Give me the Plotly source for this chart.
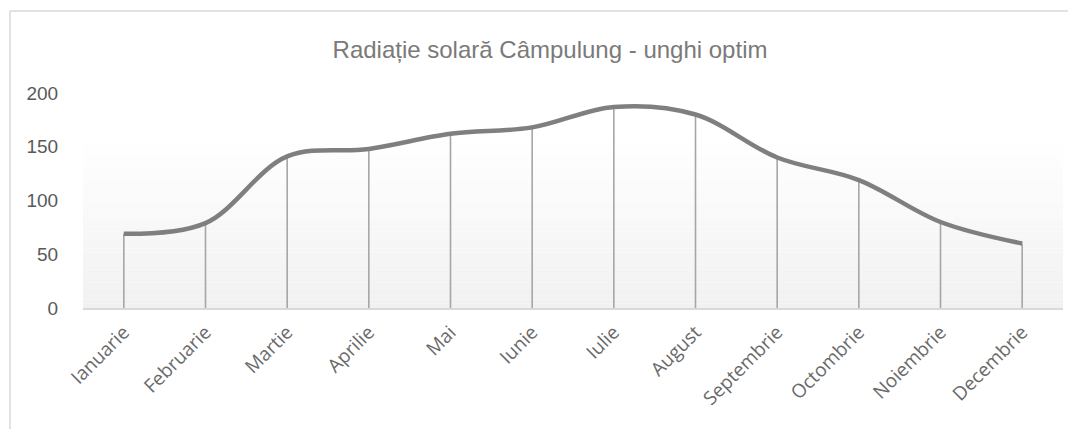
import plotly.graph_objects as go

months = ["Ianuarie", "Februarie", "Martie", "Aprilie", "Mai", "Iunie",
          "Iulie", "August", "Septembrie", "Octombrie", "Noiembrie", "Decembrie"]
radiation = [69, 79, 141, 148, 162, 168, 187, 180, 140, 119, 80, 60]
y_ticks = [0, 50, 100, 150, 200]
title_text = "Radiație solară Câmpulung - unghi optim"

OFF = 8  # page body margin
W, H = 1076 - OFF, 429 - OFF
L, T = 83 - OFF, 93 - OFF
R = W + OFF - 1063
B = H + OFF - 308
pw, ph = W - L - R, H - T - B

fig = go.Figure()

fig.add_trace(go.Scatter(
    x=months, y=radiation, mode="lines",
    line=dict(color="#7f7f7f", width=4.5, shape="spline", smoothing=1),
    error_y=dict(type="data", symmetric=False, array=[0] * len(radiation),
                 arrayminus=radiation, color="#a6a6a6", thickness=1.6, width=0),
    hoverinfo="x+y", showlegend=False,
))

shapes = []
n = 40
top = (308 - 138) / ph
for i in range(n):
    y0 = top * i / n
    y1 = top * (i + 1) / n
    t = 1 - (i + 0.5) / n
    v = int(round(255 - (255 - 241) * t))
    shapes.append(dict(type="rect", xref="paper", yref="paper", x0=0, x1=1,
                       y0=y0, y1=y1, fillcolor=f"rgb({v},{v},{v})",
                       line=dict(width=0), layer="below"))
bx = (10 - 83) / pw
by = (308 - 11) / ph
shapes.append(dict(type="line", xref="paper", yref="paper", x0=bx, x1=1.2,
                   y0=by, y1=by, line=dict(color="#d9d9d9", width=1.5)))
shapes.append(dict(type="line", xref="paper", yref="paper", x0=bx, x1=bx,
                   y0=by, y1=-1, line=dict(color="#d9d9d9", width=1.5)))

fig.update_layout(
    width=W, height=H,
    margin=dict(l=L, r=R, t=T, b=B, pad=0),
    paper_bgcolor="white", plot_bgcolor="rgba(0,0,0,0)",
    shapes=shapes,
    title=dict(text=title_text, x=(550 - OFF) / W, xanchor="center", xref="container",
               y=1 - (50 - OFF) / H, yanchor="middle", yref="container",
               font=dict(family="Liberation Sans, Arial, sans-serif", size=24, color="#7a7a7a")),
    xaxis=dict(type="category", range=[-0.5, len(months) - 0.5],
               showgrid=False, zeroline=False,
               showline=True, linecolor="#d9d9d9", linewidth=1.5,
               tickangle=-45, ticks="outside", ticklen=4, tickcolor="rgba(0,0,0,0)",
               tickfont=dict(family='"Open Sans", sans-serif', size=19, color="#6a6a6a")),
    yaxis=dict(range=[0, 200], tickvals=y_ticks, showgrid=False, zeroline=False,
               showline=False, ticks="outside", ticklen=20, tickcolor="rgba(0,0,0,0)",
               tickfont=dict(family="Liberation Sans, Arial, sans-serif", size=19, color="#595959")),
)

fig.write_html("out.html")
